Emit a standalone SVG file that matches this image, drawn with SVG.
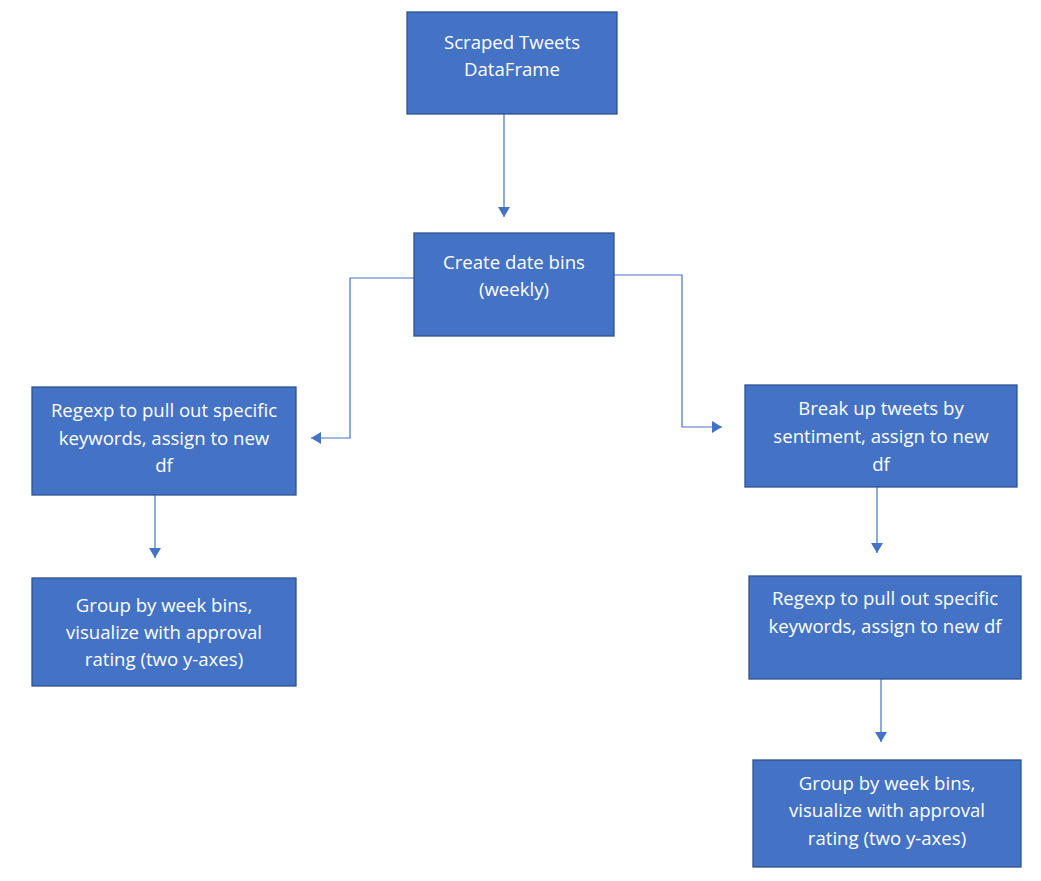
<svg xmlns="http://www.w3.org/2000/svg" width="1041" height="881" viewBox="0 0 1041 881">
  <style>
    .box { fill: #4472C4; stroke: #2F528F; stroke-width: 1.3; }
    .lbl { font-family: "Open Sans", "Noto Sans", "Liberation Sans", sans-serif; font-size: 18.6px; fill: #FFFFFF; text-anchor: middle; }
    .wire { fill: none; stroke: #4472C4; stroke-width: 1.2; }
  </style>
  <defs>
    <marker id="head" viewBox="0 0 10 12" refX="10" refY="6" markerWidth="10" markerHeight="12" markerUnits="userSpaceOnUse" orient="auto">
      <path d="M0,0 L10,6 L0,12 Z" fill="#4472C4"/>
    </marker>
  </defs>
  <rect width="1041" height="881" fill="#FFFFFF"/>

  <!-- connectors -->
  <g id="connectors">
    <path class="wire" d="M504,114 V217" marker-end="url(#head)"/>
    <path class="wire" d="M414,278 H350 V438 H311" marker-end="url(#head)"/>
    <path class="wire" d="M614,275 H682 V427 H722" marker-end="url(#head)"/>
    <path class="wire" d="M155,495 V558" marker-end="url(#head)"/>
    <path class="wire" d="M877,487 V553" marker-end="url(#head)"/>
    <path class="wire" d="M881,679 V742" marker-end="url(#head)"/>
  </g>

  <g id="scraped">
    <rect class="box" x="407" y="12" width="210" height="102"/>
    <text class="lbl" x="512" y="49">Scraped Tweets</text>
    <text class="lbl" x="512" y="76">DataFrame</text>
  </g>

  <g id="datebins">
    <rect class="box" x="414" y="233" width="200" height="103"/>
    <text class="lbl" x="514" y="269">Create date bins</text>
    <text class="lbl" x="514" y="296">(weekly)</text>
  </g>

  <g id="regexp-left">
    <rect class="box" x="32" y="387" width="264" height="108"/>
    <text class="lbl" x="164" y="417">Regexp to pull out specific</text>
    <text class="lbl" x="164" y="445">keywords, assign to new</text>
    <text class="lbl" x="164" y="472">df</text>
  </g>

  <g id="group-left">
    <rect class="box" x="32" y="578" width="264" height="108"/>
    <text class="lbl" x="164" y="612">Group by week bins,</text>
    <text class="lbl" x="164" y="639">visualize with approval</text>
    <text class="lbl" x="164" y="666">rating (two y-axes)</text>
  </g>

  <g id="sentiment">
    <rect class="box" x="745" y="385" width="272" height="102"/>
    <text class="lbl" x="881" y="415">Break up tweets by</text>
    <text class="lbl" x="881" y="443">sentiment, assign to new</text>
    <text class="lbl" x="881" y="471">df</text>
  </g>

  <g id="regexp-right">
    <rect class="box" x="749" y="576" width="272" height="103"/>
    <text class="lbl" x="885" y="605">Regexp to pull out specific</text>
    <text class="lbl" x="885" y="633">keywords, assign to new df</text>
  </g>

  <g id="group-right">
    <rect class="box" x="753" y="760" width="268" height="107"/>
    <text class="lbl" x="887" y="790">Group by week bins,</text>
    <text class="lbl" x="887" y="817">visualize with approval</text>
    <text class="lbl" x="887" y="845">rating (two y-axes)</text>
  </g>
</svg>
